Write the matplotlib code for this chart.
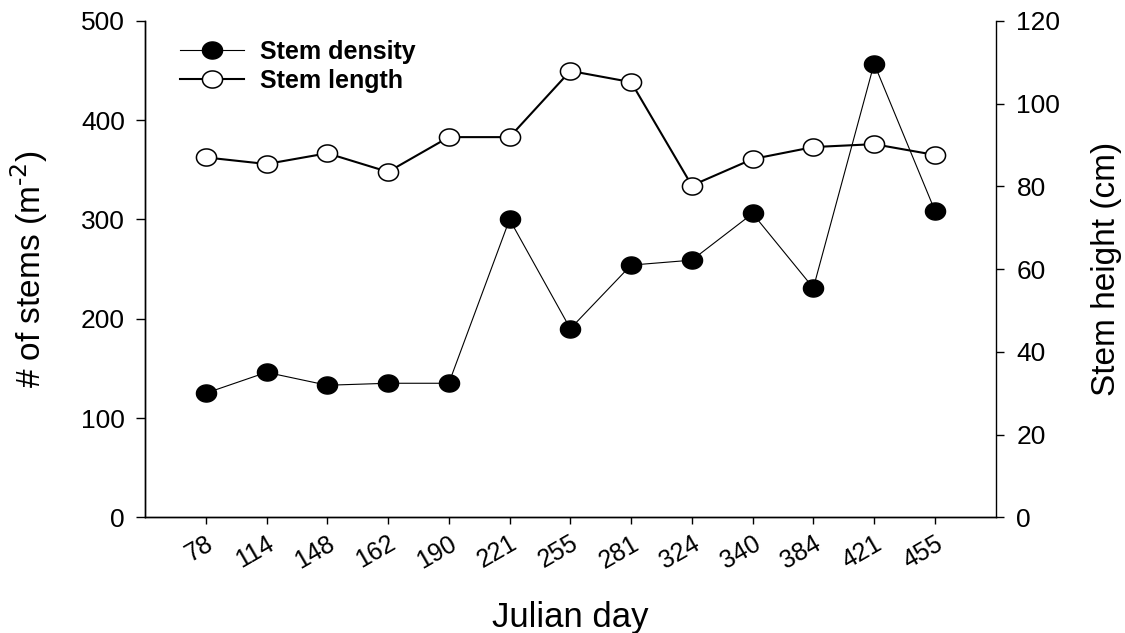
import numpy as np
import matplotlib
matplotlib.use("Agg")
import matplotlib.pyplot as plt
from matplotlib.path import Path

plt.rcParams['font.family'] = ['Liberation Sans', 'DejaVu Sans']

# Julian day (categorical x axis)
days = ['78', '114', '148', '162', '190', '221', '255', '281', '324', '340', '384', '421', '455']
# stems per m2 (left axis)
stem_density = [125, 146, 133, 135, 135, 300, 190, 254, 259, 306, 231, 457, 309]
# stem height in cm (right axis)
stem_length = [87.0, 85.4, 88.0, 83.5, 91.9, 91.9, 107.9, 105.2, 80.2, 86.6, 89.5, 90.2, 87.6]

# slightly flattened circle, like the original export
t = np.linspace(0, 2 * np.pi, 61)
oval = Path(np.column_stack([np.cos(t), 0.85 * np.sin(t)]), closed=True)

x = np.arange(len(days))

fig = plt.figure(figsize=(11.25, 6.33), dpi=100)
ax = fig.add_axes([0.1289, 0.1828, 0.885 - 0.1289, 0.967 - 0.1828])
ax2 = ax.twinx()

l1, = ax.plot(x, stem_density, '-', color='black', lw=0.8, marker=oval,
              markersize=14.5, markerfacecolor='black', markeredgecolor='black',
              label='Stem density', zorder=3)
l2, = ax2.plot(x, stem_length, '-', color='black', lw=1.5, marker=oval,
               markersize=14.5, markerfacecolor='white', markeredgecolor='black',
               markeredgewidth=1.1, label='Stem length', zorder=3)

ax.set_xlim(-1, 13)
ax.set_ylim(0, 500)
ax2.set_ylim(0, 120)
ax.set_yticks([0, 100, 200, 300, 400, 500])
ax2.set_yticks([0, 20, 40, 60, 80, 100, 120])
ax.set_xticks(x)
ax.set_xticklabels(days, rotation=30, ha='right', rotation_mode='anchor')

for a in (ax, ax2):
    a.spines['top'].set_visible(False)
    for s in a.spines.values():
        s.set_linewidth(1.0)
ax.spines['right'].set_visible(False)

ax.tick_params(axis='y', direction='out', length=6.5, width=1.0, labelsize=19, pad=8)
ax.tick_params(axis='x', direction='out', length=5, width=1.0, labelsize=18, pad=5)
ax2.tick_params(axis='y', direction='out', length=6, width=1.0, labelsize=19, pad=9)

ax.set_xlabel('Julian day', fontsize=25, labelpad=20)
ax.set_ylabel('# of stems (m$^{\\text{-2}}$)', fontsize=24, labelpad=22)
ax2.set_ylabel('Stem height (cm)', fontsize=24, labelpad=22)

ax.legend(handles=[l1, l2], loc='center left', bbox_to_anchor=(0.041, 0.909),
          frameon=False, borderpad=0, borderaxespad=0, handlelength=2.56,
          handletextpad=0.65, labelspacing=0.2, prop={'weight': 'bold', 'size': 18})

fig.savefig('out.png', dpi=100)
